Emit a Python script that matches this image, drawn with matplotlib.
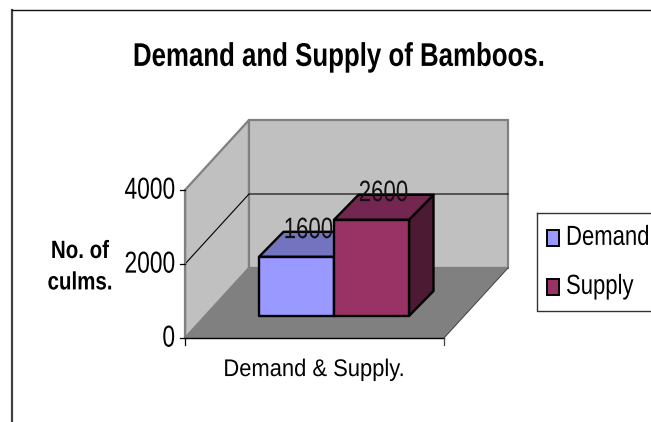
import matplotlib
matplotlib.use("Agg")
import matplotlib.pyplot as plt
import matplotlib.patheffects as pe
from matplotlib.patches import Polygon, Rectangle
from matplotlib.text import Text
from matplotlib.transforms import Affine2D

title = "Demand and Supply of Bamboos."
x_label = "Demand & Supply."
y_label = "No. of\nculms."
series = ["Demand", "Supply"]
values = [1600, 2600]
y_ticks = [0, 2000, 4000]
face = ["#9999FF", "#993366"]
top = ["#7373BF", "#732650"]
side = ["#4D4D80", "#4D1A33"]

plt.rcParams['font.family'] = ['Liberation Sans', 'DejaVu Sans']
fig = plt.figure(figsize=(6.51, 4.22), dpi=100)
ax = fig.add_axes([0, 0, 1, 1])
ax.set_xlim(0, 651)
ax.set_ylim(422, 0)
ax.axis("off")


class Stretch(pe.AbstractPathEffect):
    """Stretch glyphs vertically about the text's anchor."""
    def __init__(self, owner, sy):
        super().__init__()
        self.owner, self.sy = owner, sy

    def draw_path(self, renderer, gc, tpath, affine, rgbFace=None):
        cy = self.owner.get_transform().transform(self.owner.get_position())[1]
        extra = Affine2D().translate(0, -cy).scale(1, self.sy).translate(0, cy)
        renderer.draw_path(gc, tpath, affine + extra, rgbFace)


class TallText(Text):
    def __init__(self, x, y, s, sy, **kw):
        super().__init__(x, y, s, **kw)
        self.sy = sy
        self.set_path_effects([Stretch(self, sy)])

    def get_window_extent(self, renderer=None, dpi=None):
        bb = super().get_window_extent(renderer, dpi)
        cy = self.get_transform().transform(self.get_position())[1]
        return bb.transformed(Affine2D().translate(0, -cy).scale(1, self.sy).translate(0, cy))


def label(x, y, s, sy, **kw):
    return ax.add_artist(TallText(x, y, s, sy, **kw))


X0, X1, Y0 = 185, 444, 338
DX, DY = 64, -70
SCALE = 148 / 4000
def vy(v):
    return Y0 - v * SCALE

# outer frame
ax.plot([12, 12], [10, 422], color="#404040", lw=1.6, zorder=1)
ax.plot([12, 651], [10, 10], color="#111111", lw=1.0, zorder=1)

# walls and floor
ymax = vy(4000)
ax.add_patch(Polygon([(X0, Y0), (X0 + DX, Y0 + DY), (X0 + DX, ymax + DY), (X0, ymax)],
                     fc="#C0C0C0", ec="#808080", lw=1.6, zorder=2))
ax.add_patch(Polygon([(X0 + DX, Y0 + DY), (X1 + DX, Y0 + DY), (X1 + DX, ymax + DY), (X0 + DX, ymax + DY)],
                     fc="#C0C0C0", ec="#808080", lw=1.6, zorder=2))
ax.add_patch(Polygon([(X0, Y0), (X1, Y0), (X1 + DX, Y0 + DY), (X0 + DX, Y0 + DY)],
                     fc="#808080", ec="none", zorder=3))
ax.plot([X1, X1 + DX], [Y0, Y0 + DY], color="#404040", lw=0.7, zorder=3)

# gridline at 2000 along walls
gy = vy(2000)
ax.plot([X0, X0 + DX, X1 + DX], [gy, gy + DY, gy + DY], color="black", lw=0.8, zorder=3)

# axes
ax.plot([X0, X0], [vy(4000), Y0], color="#808080", lw=1.0, zorder=3)
ax.plot([X0, X1], [Y0, Y0], color="black", lw=1.0, zorder=4)
for t in y_ticks:
    ax.plot([X0 - 5, X0], [vy(t), vy(t)], color="black", lw=0.9, zorder=4)
    label(X0 - 10, vy(t), str(t), 1.33, ha="right", va="center", fontsize=16.4, zorder=5)
ax.plot([X0, X0], [Y0, Y0 + 7], color="black", lw=0.9, zorder=4)
ax.plot([X1, X1], [Y0, Y0 + 7], color="#444444", lw=0.9, zorder=4)

# bars
BX, BW, BY = 259, 75, 316
BDX, BDY = 24.5, -25
for i, v in enumerate(values):
    l = BX + i * BW
    r = l + BW
    t = BY - v * SCALE
    kw = dict(ec="black", lw=1.7, joinstyle="round")
    ax.add_patch(Polygon([(r, BY), (r + BDX, BY + BDY), (r + BDX, t + BDY), (r, t)], fc=side[i], zorder=5 + i, **kw))
    ax.add_patch(Polygon([(l, t), (r, t), (r + BDX, t + BDY), (l + BDX, t + BDY)], fc=top[i], zorder=5 + i, **kw))
    ax.add_patch(Rectangle((l, t), BW, BY - t, fc=face[i], zorder=5 + i, **kw))
    label(l + 49.5, t - 26, str(v), 1.33, ha="center", va="center", fontsize=16, zorder=9, color="#111111")

# text
label(339, 57, title, 1.27, ha="center", va="center", fontsize=18.6, fontweight="bold")
label(314, 370, x_label, 1.1, ha="center", va="center", fontsize=15.8)
label(80, 267, y_label, 1.22, ha="center", va="center", fontsize=14.76, fontweight="bold", linespacing=1.45)

# legend
ax.plot([537, 537, 651], [213, 311, 311], color="#333333", lw=1.0, zorder=4)
ax.plot([537, 651], [213, 213], color="#333333", lw=1.0, zorder=4)
for i, (s, yc) in enumerate(zip(series, [238, 287])):
    ax.add_patch(Rectangle((547, yc - 8), 12, 16, fc=face[i], ec="black", lw=1.4, zorder=5))
    label(566, yc, s, 1.25, ha="left", va="center", fontsize=15.9)

fig.savefig("out.png", dpi=100)
